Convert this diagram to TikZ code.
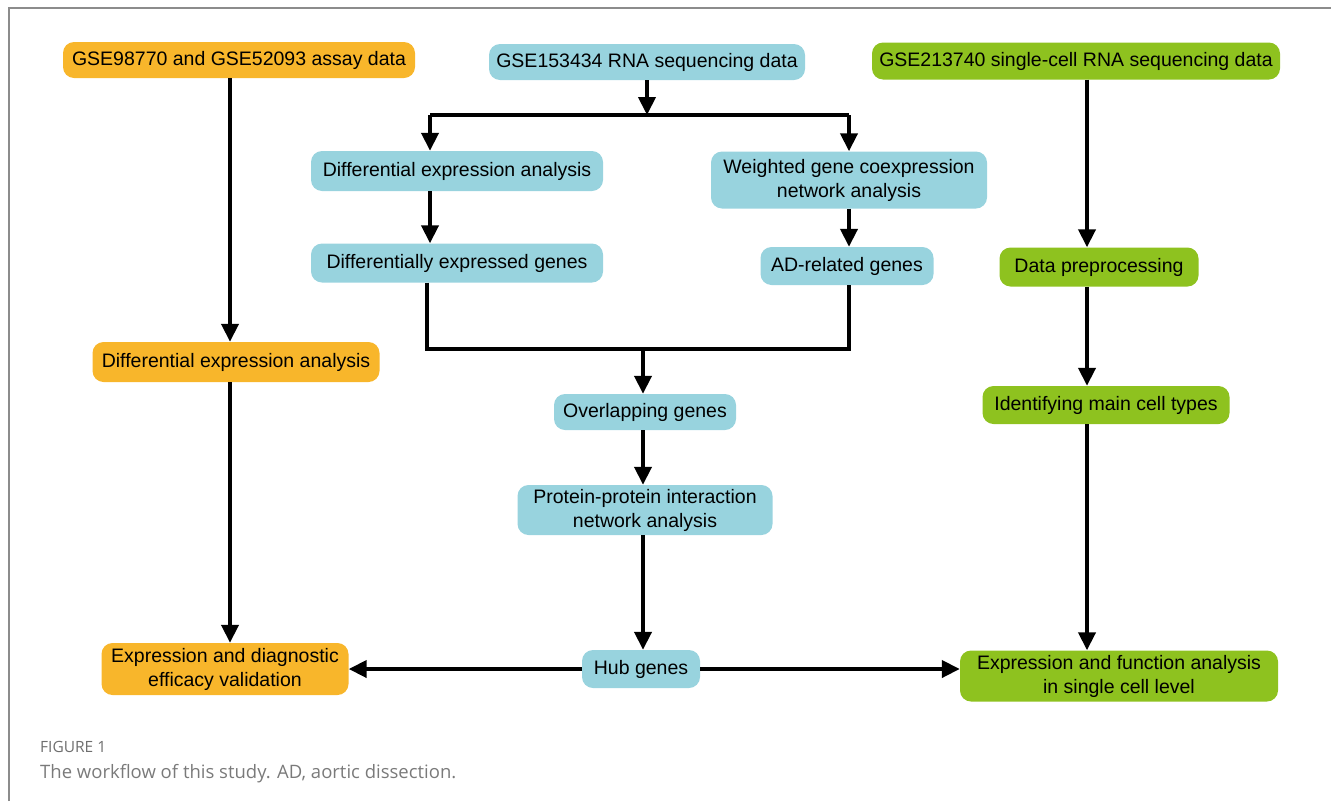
\documentclass[tikz,border=0pt]{standalone}
\usepackage{fontspec}
\setmainfont{Liberation Sans}
\newfontfamily\capfont{Open Sans}
\usetikzlibrary{arrows.meta}
\definecolor{gsoorange}{HTML}{F8B62B}
\definecolor{gsoblue}{HTML}{98D3DE}
\definecolor{gsogreen}{HTML}{8EC21F}
\definecolor{framegray}{HTML}{8C8C8C}
\definecolor{capgray}{HTML}{7A7A7A}
\begin{document}
\begin{tikzpicture}[x=1pt,y=-1pt,
    box/.style={rounded corners=11pt,inner sep=0pt,align=center,
      font=\fontsize{19.5}{24}\selectfont},
    obox/.style={box,fill=gsoorange},
    bbox/.style={box,fill=gsoblue},
    gbox/.style={box,fill=gsogreen},
    arr/.style={line width=4pt,-{Triangle[length=18pt,width=17pt]}},
    seg/.style={line width=4pt}]
  \useasboundingbox (0,0) rectangle (1331,801);
  \draw[framegray,line width=1.2pt] (9,801) -- (9,8) -- (1331,8);
  % left column
  \draw
    (239,60) node[obox,minimum width=352pt,minimum height=36pt] (a1){GSE98770 and GSE52093 assay data}
    (236,362) node[obox,minimum width=287pt,minimum height=40pt] (a2){Differential expression analysis}
    (225,669) node[obox,minimum width=247pt,minimum height=52pt] (a3){Expression and diagnostic\\efficacy validation};
  % middle column
  \draw
    (647,62) node[bbox,minimum width=316pt,minimum height=36pt] (b1){GSE153434 RNA sequencing data}
    (457,171) node[bbox,minimum width=292pt,minimum height=40pt] (b2){Differential expression analysis}
    (849,180) node[bbox,minimum width=276pt,minimum height=57pt] (b3){Weighted gene coexpression\\network analysis}
    (457,263) node[bbox,minimum width=292pt,minimum height=39pt] (b4){Differentially expressed genes}
    (847,266) node[bbox,minimum width=173pt,minimum height=38pt] (b5){AD-related genes}
    (645,412) node[bbox,minimum width=182pt,minimum height=36pt] (b6){Overlapping genes}
    (645,510) node[bbox,minimum width=255pt,minimum height=50pt] (b7){Protein-protein interaction\\network analysis}
    (641,669) node[bbox,minimum width=118pt,minimum height=38pt] (b8){Hub genes};
  % right column
  \draw
    (1076,61) node[gbox,minimum width=408pt,minimum height=37pt] (c1){GSE213740 single-cell RNA sequencing data}
    (1099,267) node[gbox,minimum width=199pt,minimum height=39pt] (c2){Data preprocessing}
    (1106,405) node[gbox,minimum width=247pt,minimum height=38pt] (c3){Identifying main cell types}
    (1119,676) node[gbox,minimum width=318pt,minimum height=51pt] (c4){Expression and function analysis\\in single cell level};
  \coordinate (sl) at (430,115);
  \coordinate (sr) at (849,115);
  \coordinate (sm) at (647,115);
  \coordinate (ml) at (427,349);
  \coordinate (mr) at (849,349);
  \coordinate (mm) at (643,349);
  \coordinate (la) at (230,0);
  \coordinate (ra) at (1087,0);
  \begin{scope}
    \draw[arr] (a1.south -| la) -- (a2.north -| la);
    \draw[arr] (a2.south -| la) -- (a3.north -| la);
    \draw[arr] (b1.south -| sm) -- (sm);
    \draw[seg] (sl) -- (sr);
    \draw[arr] (sl) -- (b2.north -| sl);
    \draw[arr] (sr) -- (b3.north -| sr);
    \draw[arr] (b2.south -| sl) -- (b4.north -| sl);
    \draw[arr] (b3.south -| sr) -- (b5.north -| sr);
    \draw[seg] (b4.south -| ml) -- (ml) -- (mr) -- (b5.south -| mr);
    \draw[arr] (mm) -- (b6.north -| mm);
    \draw[arr] (b6.south -| mm) -- (b7.north -| mm);
    \draw[arr] (b7.south -| mm) -- (b8.north -| mm);
    \draw[arr] (b8.west) -- (a3.east);
    \draw[arr] (b8.east) -- (b8.east -| c4.west);
    \draw[arr] (c1.south -| ra) -- (c2.north -| ra);
    \draw[arr] (c2.south -| ra) -- (c3.north -| ra);
    \draw[arr] (c3.south -| ra) -- (c4.north -| ra);
  \end{scope}
  % caption
  \node[anchor=base west,inner sep=0pt,text=capgray!90!black,font=\capfont\fontsize{15.5}{18}\selectfont] (fig) at (40,752) {FIGURE 1};
  \node[anchor=base west,inner sep=0pt,text=capgray,font=\capfont\fontsize{18.5}{22}\selectfont] (cap) at (40,778) {The workflow of this study. AD, aortic dissection.};
\end{tikzpicture}
\end{document}
